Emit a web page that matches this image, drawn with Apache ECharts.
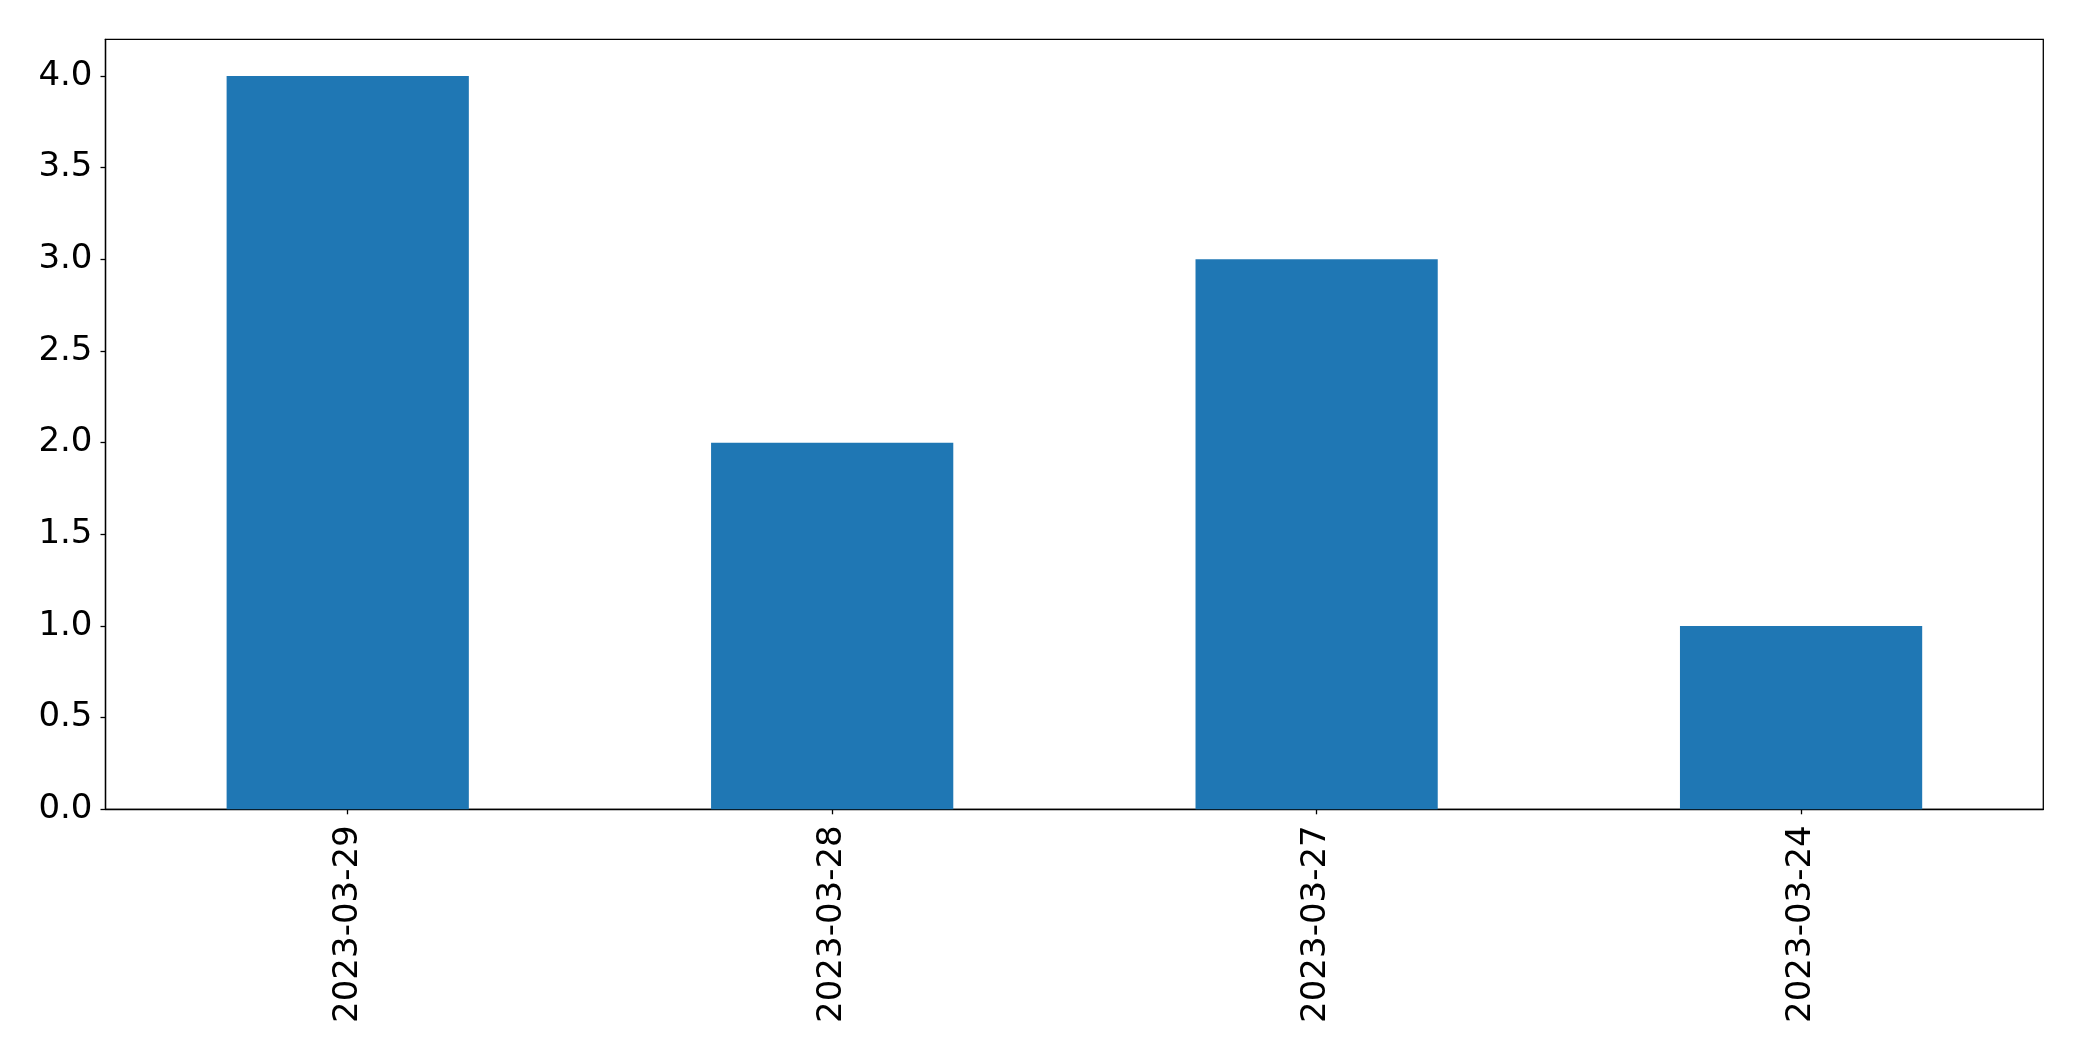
<!DOCTYPE html>
<html>
<head>
<meta charset="utf-8">
<script src="https://cdn.jsdelivr.net/npm/echarts@6/dist/echarts.min.js"></script>
<style>
html,body{margin:0;padding:0;background:#fff;}
#chart{width:2082px;height:1061px;}
</style>
</head>
<body>
<div id="chart"></div>
<script>
const categories = ['2023-03-29', '2023-03-28', '2023-03-27', '2023-03-24'];
const values = [4, 2, 3, 1];
const yTickMax = 4.0;
const yTickInterval = 0.5;
const yAxisMax = 4.2;

const G = {left: 105.5, right: 38.7, top: 39.3, bottom: 251.7};
const plotH = 1061 - G.top - G.bottom;
const tickGridTop = G.top + (yAxisMax - yTickMax) / yAxisMax * plotH;
const FONT = 'DejaVu Sans';

const chart = echarts.init(document.getElementById('chart'), null, {renderer: 'canvas'});
chart.setOption({
  animation: false,
  backgroundColor: '#fff',
  grid: [
    {left: G.left, right: G.right, top: G.top, bottom: G.bottom, show: true, borderColor: '#000', borderWidth: 1.3, backgroundColor: 'transparent'},
    {left: G.left, right: G.right, top: tickGridTop, bottom: G.bottom}
  ],
  xAxis: [
    {
      type: 'category', gridIndex: 0, data: categories,
      axisLine: {show: true, lineStyle: {color: '#000', width: 1.3}},
      axisTick: {show: true, alignWithLabel: true, length: 5, lineStyle: {color: '#000', width: 1.3}},
      axisLabel: {rotate: 90, fontSize: 34, fontFamily: FONT, color: '#000', margin: 16, interval: 0},
      splitLine: {show: false}
    },
    {type: 'category', gridIndex: 1, data: categories, show: false}
  ],
  yAxis: [
    {
      type: 'value', gridIndex: 0, min: 0, max: yAxisMax,
      axisLine: {show: true, lineStyle: {color: '#000', width: 1.3}},
      axisTick: {show: false}, axisLabel: {show: false}, splitLine: {show: false}
    },
    {
      type: 'value', gridIndex: 1, min: 0, max: yTickMax, interval: yTickInterval,
      axisLine: {show: false},
      axisTick: {show: true, length: 5, lineStyle: {color: '#000', width: 1.3}},
      axisLabel: {fontSize: 34, fontFamily: FONT, color: '#000', margin: 13, formatter: v => v.toFixed(1)},
      splitLine: {show: false}
    }
  ],
  series: [{
    type: 'bar', xAxisIndex: 0, yAxisIndex: 0, data: values,
    barWidth: '50%', itemStyle: {color: '#1f77b4'}
  }]
});
</script>
</body>
</html>
